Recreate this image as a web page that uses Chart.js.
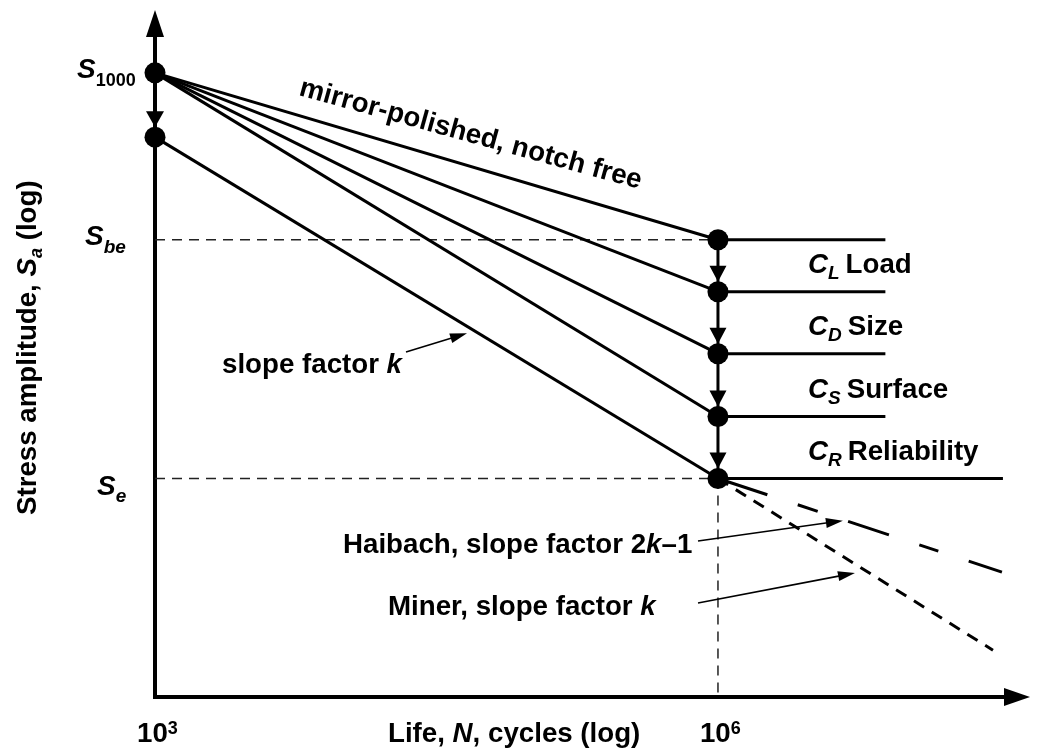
<!DOCTYPE html>
<html>
<head>
<meta charset="utf-8">
<script src="https://cdn.jsdelivr.net/npm/chart.js@4/dist/chart.umd.min.js"></script>
<style>
  html, body { margin: 0; padding: 0; background: #fff; }
  #wrap { width: 1038px; height: 748px; }
</style>
</head>
<body>
<div id="wrap"><canvas id="sn" width="1038" height="748"></canvas></div>
<script>
// S-N curve sketch: values (stress in arbitrary units)
const lifeStart = 1e3;                 // N where S1000 sits
const lifeKnee = 1e6;                  // knee of the curve
const s1000 = 810;                     // S1000, mirror-polished
const s1000Reduced = 653;              // S1000 after all factors
const kneeStress = [463, 389, 316, 256, 208];   // Sbe, after C_L, C_D, C_S, C_R (= Se)
const plateauEnd = [7.8e6, 7.8e6, 7.8e6, 7.8e6, 3.3e7];
const factorSubs = ['L', 'D', 'S', 'R'];
const factorNames = ['Load', 'Size', 'Surface', 'Reliability'];
const haibachN = [1e6, 3.26e7];
const haibachS = [208, 152];
const minerN = [1e6, 2.92e7];
const minerS = [208, 117];
const xTicks = [1e3, 1e6];
const xTickExp = ['3', '6'];

const FAMILY = '"Liberation Sans", Arial, Helvetica, sans-serif';
const TXT = 27.7;

function font(size, italic) {
    return (italic ? 'italic ' : '') + 'bold ' + size + 'px ' + FAMILY;
}

// 一段段畫文字（含上下標）
function drawRuns(ctx, x, y, parts) {
    parts.forEach(p => {
        ctx.font = font(p.size || TXT, p.it);
        ctx.fillText(p.t, x, y + (p.dy || 0));
        x += ctx.measureText(p.t).width;
    });
    return x;
}

function arrowHead(ctx, x0, y0, x1, y1, len, half) {
    const a = Math.atan2(y1 - y0, x1 - x0);
    const bx = x1 - len * Math.cos(a), by = y1 - len * Math.sin(a);
    ctx.beginPath();
    ctx.moveTo(x1, y1);
    ctx.lineTo(bx + half * Math.sin(a), by - half * Math.cos(a));
    ctx.lineTo(bx - half * Math.sin(a), by + half * Math.cos(a));
    ctx.closePath();
    ctx.fill();
}

function thinArrow(ctx, x0, y0, x1, y1) {
    const a = Math.atan2(y1 - y0, x1 - x0);
    ctx.lineWidth = 1.6;
    ctx.beginPath();
    ctx.moveTo(x0, y0);
    ctx.lineTo(x1 - 10 * Math.cos(a), y1 - 10 * Math.sin(a));
    ctx.stroke();
    arrowHead(ctx, x0, y0, x1, y1, 17, 5);
}

// stress on a straight log-log segment at life n
function onLine(n0, s0, n1, s1, n) {
    const t = (Math.log10(n) - Math.log10(n0)) / (Math.log10(n1) - Math.log10(n0));
    return Math.pow(10, Math.log10(s0) + t * (Math.log10(s1) - Math.log10(s0)));
}

function seg(data, opts) {
    return Object.assign({
        data: data,
        showLine: true,
        borderColor: '#000',
        borderWidth: 3,
        pointRadius: 0,
        clip: false,
        order: 2,
    }, opts || {});
}

const datasets = [];

// dots
datasets.push({
    data: [{ x: lifeStart, y: s1000 }, { x: lifeStart, y: s1000Reduced }]
        .concat(kneeStress.map(s => ({ x: lifeKnee, y: s }))),
    showLine: false,
    pointRadius: 10.5,
    pointBackgroundColor: '#000',
    pointBorderWidth: 0,
    clip: false,
    order: 0,
});

// sloped lines
kneeStress.forEach((s, i) => {
    const start = i < 4 ? s1000 : s1000Reduced;
    datasets.push(seg([{ x: lifeStart, y: start }, { x: lifeKnee, y: s }]));
});

// plateaus
kneeStress.forEach((s, i) => {
    datasets.push(seg([{ x: lifeKnee, y: s }, { x: plateauEnd[i], y: s }]));
});

// connector at knee
datasets.push(seg([{ x: lifeKnee, y: kneeStress[0] }, { x: lifeKnee, y: kneeStress[4] }]));

// Haibach / Miner
datasets.push(seg(haibachN.map((n, i) => ({ x: n, y: haibachS[i] })),
    { borderDash: [52, 32, 21, 32, 43, 32, 20, 32, 40] }));
datasets.push(seg(minerN.map((n, i) => ({ x: n, y: minerS[i] })), { borderDash: [12, 9] }));

// reference dashes
const ref = { borderWidth: 1.5, borderDash: [10, 7], borderColor: '#222', order: 3 };
datasets.push(seg([{ x: lifeStart, y: kneeStress[0] }, { x: lifeKnee, y: kneeStress[0] }], ref));
datasets.push(seg([{ x: lifeStart, y: kneeStress[4] }, { x: lifeKnee, y: kneeStress[4] }], ref));
datasets.push(seg([{ x: lifeKnee, y: kneeStress[4] }, { x: lifeKnee, y: 100 }], ref));

const sketchPlugin = {
    id: 'sketch',
    beforeDatasetsDraw(chart) {
        const ctx = chart.ctx;
        const a = chart.chartArea;
        ctx.save();
        ctx.strokeStyle = '#000';
        ctx.fillStyle = '#000';
        ctx.lineWidth = 4;
        ctx.beginPath();
        ctx.moveTo(a.left, a.top + 20);
        ctx.lineTo(a.left, a.bottom);
        ctx.lineTo(a.right - 18, a.bottom);
        ctx.stroke();
        arrowHead(ctx, a.left, a.bottom, a.left, a.top, 27, 9);
        arrowHead(ctx, a.left, a.bottom, a.right, a.bottom, 26, 9);
        ctx.restore();
    },
    afterDatasetsDraw(chart) {
        const ctx = chart.ctx;
        const xs = chart.scales.x, ys = chart.scales.y;
        const px = v => xs.getPixelForValue(v);
        const py = v => ys.getPixelForValue(v);
        ctx.save();
        ctx.fillStyle = '#000';
        ctx.strokeStyle = '#000';
        ctx.textBaseline = 'alphabetic';

        // down arrows
        const x0 = px(lifeStart);
        arrowHead(ctx, x0, py(s1000), x0, py(s1000Reduced) - 10, 16, 9);
        const xk = px(lifeKnee);
        for (let i = 0; i < 4; i++) {
            arrowHead(ctx, xk, py(kneeStress[i]), xk, py(kneeStress[i + 1]) - 10, 16, 8.5);
        }

        // stress labels at left
        drawRuns(ctx, 77, py(s1000) + 5, [
            { t: 'S', it: true, size: 28 }, { t: '1000', size: 18, dy: 8 }]);
        drawRuns(ctx, 85, py(kneeStress[0]) + 5, [
            { t: 'S', it: true, size: 28 }, { t: 'be', it: true, size: 19, dy: 8 }]);
        drawRuns(ctx, 97, py(kneeStress[4]) + 17, [
            { t: 'S', it: true, size: 28 }, { t: 'e', it: true, size: 19, dy: 7 }]);

        // factor labels
        factorNames.forEach((name, i) => {
            const base = py(kneeStress[i + 1]) - 18.5;
            const xe = drawRuns(ctx, 808, base, [
                { t: 'C', it: true }, { t: factorSubs[i], it: true, size: 19, dy: 6 }]);
            drawRuns(ctx, xe + 6, base, [{ t: name }]);
        });

        // mirror-polished text
        ctx.save();
        ctx.translate(298, 95);
        ctx.rotate(15.4 * Math.PI / 180);
        drawRuns(ctx, 0, 0, [{ t: 'mirror-polished, notch free' }]);
        ctx.restore();

        // slope factor k
        drawRuns(ctx, 222, 373, [{ t: 'slope factor ' }, { t: 'k', it: true }]);
        const nK = 4.6e4;
        thinArrow(ctx, 406, 352, px(nK), py(onLine(lifeStart, s1000Reduced, lifeKnee, kneeStress[4], nK)) + 7);

        // Haibach
        drawRuns(ctx, 343, 553, [{ t: 'Haibach, slope factor 2' },
            { t: 'k', it: true }, { t: '\u20131' }]);
        const nH = 4.63e6;
        thinArrow(ctx, 698, 541, px(nH), py(onLine(haibachN[0], haibachS[0], haibachN[1], haibachS[1], nH)) + 1);

        // Miner
        drawRuns(ctx, 388, 615, [{ t: 'Miner, slope factor ' }, { t: 'k', it: true }]);
        const nM = 5.37e6;
        thinArrow(ctx, 698, 603, px(nM), py(onLine(minerN[0], minerS[0], minerN[1], minerS[1], nM)) + 9);

        // x ticks
        xTicks.forEach((v, i) => {
            const xe = drawRuns(ctx, px(v) - 18, 742, [{ t: '10' }]);
            drawRuns(ctx, xe, 742, [{ t: xTickExp[i], size: 18, dy: -8 }]);
        });

        // axis titles
        drawRuns(ctx, 388, 742, [{ t: 'Life, ' }, { t: 'N', it: true }, { t: ', cycles (log)' }]);
        ctx.save();
        ctx.translate(36, 515);
        ctx.rotate(-Math.PI / 2);
        drawRuns(ctx, 0, 0, [{ t: 'Stress amplitude, ' }, { t: 'S', it: true },
            { t: 'a', it: true, size: 18, dy: 6 }, { t: ' (log)' }]);
        ctx.restore();

        ctx.restore();
    },
};

new Chart(document.getElementById('sn'), {
    type: 'scatter',
    data: { datasets: datasets },
    options: {
        responsive: false,
        animation: false,
        events: [],
        layout: {
            autoPadding: false,
            padding: { left: 155, right: 8, top: 10, bottom: 51 },
        },
        scales: {
            x: { type: 'logarithmic', min: 1e3, max: 4.6e7, bounds: 'data', display: false },
            y: { type: 'logarithmic', min: 100, max: 1000, bounds: 'data', display: false },
        },
        plugins: {
            legend: { display: false },
            tooltip: { enabled: false },
        },
    },
    plugins: [sketchPlugin],
});
</script>
</body>
</html>
